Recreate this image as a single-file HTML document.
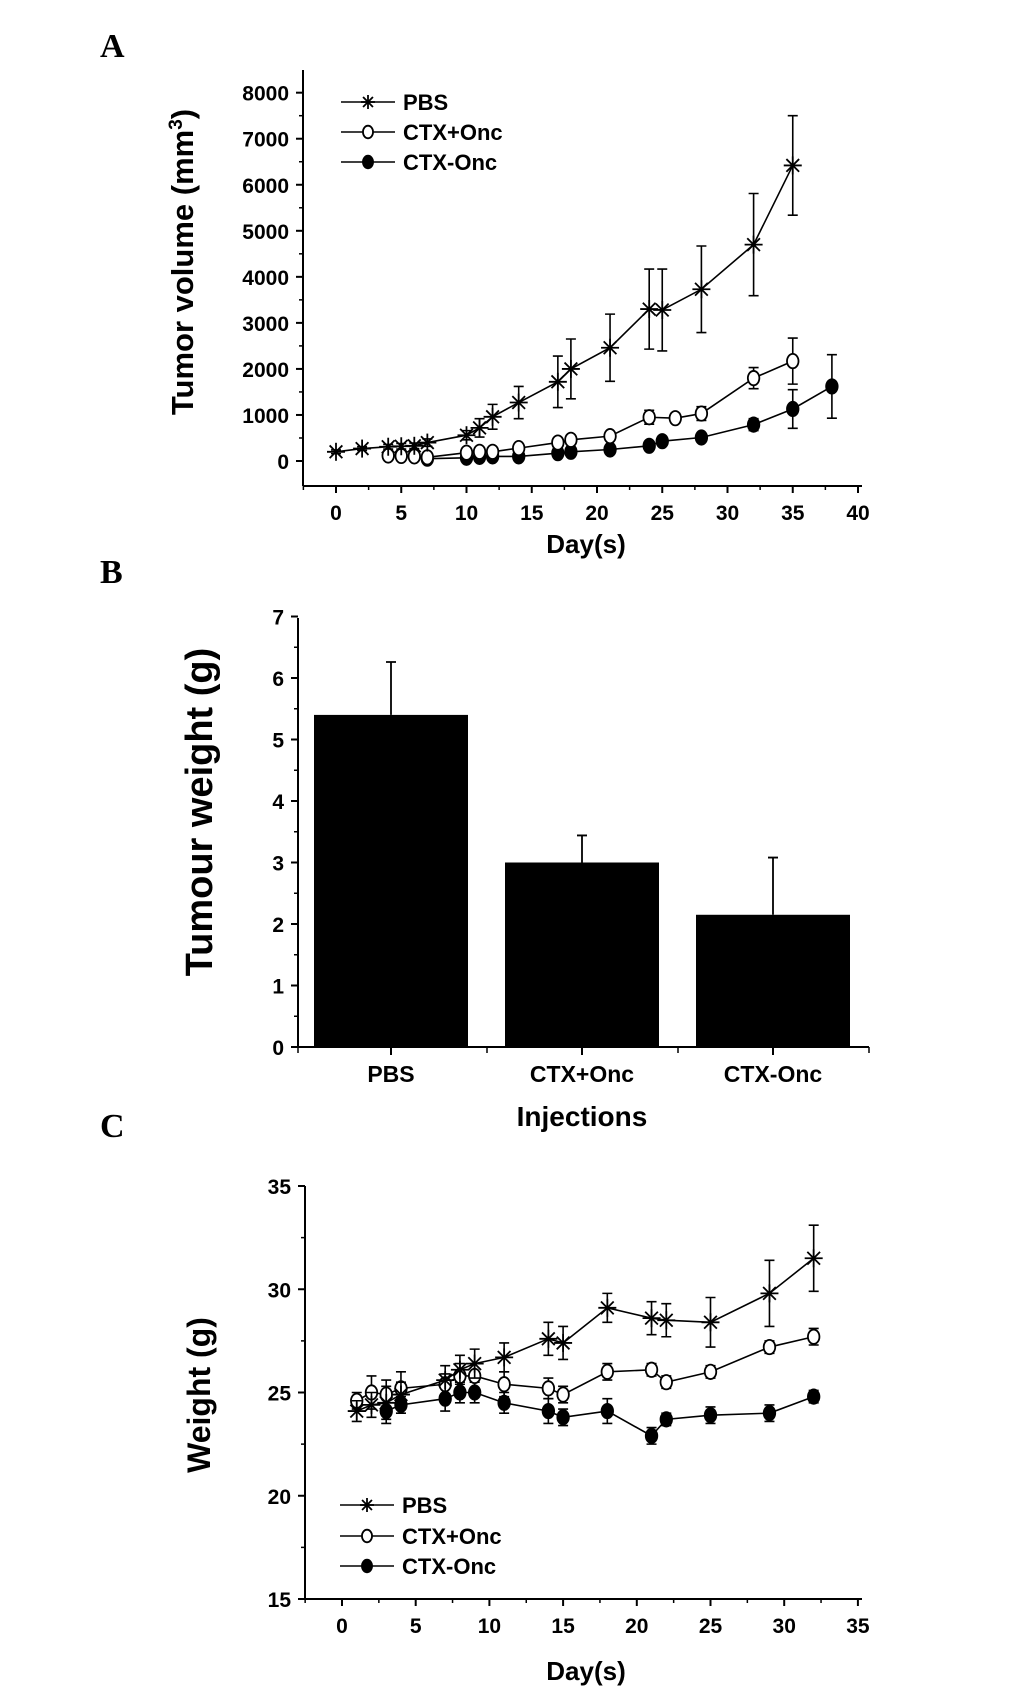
<!DOCTYPE html>
<html><head><meta charset="utf-8">
<style>
html,body{margin:0;padding:0;background:#fff;}
svg{display:block;font-family:"Liberation Sans",Arial,sans-serif;font-weight:bold;}
</style></head>
<body>
<svg id="fig" width="1033" height="1695" viewBox="0 0 1033 1695" xmlns="http://www.w3.org/2000/svg">
<text x="100" y="57" font-family="Liberation Serif,serif" font-size="34" font-weight="bold">A</text>
<text x="100" y="583" font-family="Liberation Serif,serif" font-size="34" font-weight="bold">B</text>
<text x="100" y="1137" font-family="Liberation Serif,serif" font-size="34" font-weight="bold">C</text>
<g id="gA"></g>
<g id="gB"></g>
<g id="gC"></g>
</svg>
<script>
// ---- Panel A data ----
const aPbsDays=[0,2,4,5,6,7,10,11,12,14,17,18,21,24,25,28,32,35];
const aPbsVals=[200,270,310,320,330,400,560,720,960,1270,1720,2000,2460,3300,3280,3730,4700,6420];
const aPbsErr=[40,40,50,60,60,80,100,200,270,350,560,650,730,870,890,940,1110,1080];
const aPlusDays=[4,5,6,7,10,11,12,14,17,18,21,24,26,28,32,35];
const aPlusVals=[120,110,100,80,180,200,200,280,400,460,540,950,930,1030,1800,2170];
const aPlusErr=[40,40,40,40,60,60,60,70,80,100,80,150,100,150,230,500];
const aMinusDays=[7,10,11,12,14,17,18,21,24,25,28,32,35,38];
const aMinusVals=[50,70,90,100,100,170,200,250,330,430,510,790,1130,1620];
const aMinusErr=[30,30,30,30,30,40,40,40,50,60,80,130,420,690];
const aXTicks=[0,5,10,15,20,25,30,35,40];
const aYTicks=[0,1000,2000,3000,4000,5000,6000,7000,8000];
// ---- Panel B data ----
const bCats=["PBS","CTX+Onc","CTX-Onc"];
const bVals=[5.4,3.0,2.15];
const bErr=[0.86,0.44,0.93];
const bYTicks=[0,1,2,3,4,5,6,7];
// ---- Panel C data ----
const cPbsDays=[1,2,3,4,7,8,9,11,14,15,18,21,22,25,29,32];
const cPbsVals=[24.1,24.4,24.5,24.9,25.6,26.1,26.4,26.7,27.6,27.4,29.1,28.6,28.5,28.4,29.8,31.5];
const cPbsErr=[0.5,0.6,0.8,0.6,0.7,0.7,0.7,0.7,0.8,0.8,0.7,0.8,0.8,1.2,1.6,1.6];
const cPlusDays=[1,2,3,4,7,8,9,11,14,15,18,21,22,25,29,32];
const cPlusVals=[24.6,25.0,24.9,25.2,25.4,25.8,25.8,25.4,25.2,24.9,26.0,26.1,25.5,26.0,27.2,27.7];
const cPlusErr=[0.4,0.8,0.7,0.8,0.5,0.6,0.6,0.6,0.5,0.4,0.4,0.3,0.3,0.3,0.3,0.4];
const cMinusDays=[3,4,7,8,9,11,14,15,18,21,22,25,29,32];
const cMinusVals=[24.1,24.4,24.7,25.0,25.0,24.5,24.1,23.8,24.1,22.9,23.7,23.9,24.0,24.8];
const cMinusErr=[0.6,0.4,0.6,0.5,0.5,0.5,0.6,0.4,0.6,0.4,0.3,0.4,0.4,0.3];
const cXTicks=[0,5,10,15,20,25,30,35];
const cYTicks=[15,20,25,30,35];

const NS="http://www.w3.org/2000/svg";
function mk(parent,tag,attrs,txt){const e=document.createElementNS(NS,tag);for(const k in attrs)e.setAttribute(k,attrs[k]);if(txt!==undefined)e.textContent=txt;parent.appendChild(e);return e;}

function marker(g,type,x,y,r){
  if(type==="star"){
    const m=mk(g,"g",{stroke:"#000","stroke-width":1.8});
    
    
    for(let i=0;i<4;i++){const a=i*Math.PI/4+Math.PI/2;mk(m,"line",{x1:x-r*Math.cos(a),y1:y-r*Math.sin(a),x2:x+r*Math.cos(a),y2:y+r*Math.sin(a)});}
  } else {
    const c=mk(g,"ellipse",{cx:x,cy:y,rx:r*0.72,ry:r*0.9,fill:type==="open"?"#fff":"#000",stroke:"#000","stroke-width":1.8});
    
    
  }
}

function series(g,days,vals,errs,sx,sy,type,name){
  const sg=mk(g,"g",{});
  
  
  const pts=days.map((d,i)=>sx(d)+","+sy(vals[i])).join(" ");
  mk(sg,"polyline",{points:pts,fill:"none",stroke:"#000","stroke-width":1.6});
  days.forEach((d,i)=>{
    const x=sx(d),y1=sy(vals[i]+errs[i]),y2=sy(vals[i]-errs[i]);
    const eb=mk(sg,"path",{d:`M${x},${y1}V${y2}M${x-5},${y1}H${x+5}M${x-5},${y2}H${x+5}`,stroke:"#000","stroke-width":1.6,fill:"none"});
    
    
  });
  days.forEach((d,i)=>marker(sg,type,sx(d),sy(vals[i]),type==="star"?9:8));
}

function axes(g,x0,x1,yTop,yBot,xAxisY,xt,sx,yt,sy,minorY,minorX,fs){
  mk(g,"line",{x1:x0,y1:yTop,x2:x0,y2:xAxisY,stroke:"#000","stroke-width":2});
  mk(g,"line",{x1:x0,y1:xAxisY,x2:x1,y2:xAxisY,stroke:"#000","stroke-width":2});
  yt.forEach((v,i)=>{
    const y=sy(v);
    mk(g,"line",{x1:x0-7,y1:y,x2:x0,y2:y,stroke:"#000","stroke-width":2});
    const t=mk(g,"text",{x:x0-14,y:y+8,"text-anchor":"end","font-size":fs},String(v));
    
    
    if(i<yt.length-1&&minorY){const ym=sy((v+yt[i+1])/2);mk(g,"line",{x1:x0-4,y1:ym,x2:x0,y2:ym,stroke:"#000","stroke-width":1.5});}
  });
  if(xt){xt.forEach((v,i)=>{
    const x=sx(v);
    mk(g,"line",{x1:x,y1:xAxisY,x2:x,y2:xAxisY+7,stroke:"#000","stroke-width":2});
    const t=mk(g,"text",{x:x,y:xAxisY+34,"text-anchor":"middle","font-size":fs},String(v));
    
    
    if(minorX){const xm=sx(v+2.5);if(xm<x1)mk(g,"line",{x1:xm,y1:xAxisY,x2:xm,y2:xAxisY+4,stroke:"#000","stroke-width":1.5});
      if(i===0){const xm2=sx(v-2.5);if(xm2>x0)mk(g,"line",{x1:xm2,y1:xAxisY,x2:xm2,y2:xAxisY+4,stroke:"#000","stroke-width":1.5});}}
  });}
}

function legend(g,x,ys){
  const items=[["star","PBS"],["open","CTX+Onc"],["filled","CTX-Onc"]];
  items.forEach((it,i)=>{
    const lg=mk(g,"g",{});
    
    
    mk(lg,"line",{x1:x,y1:ys[i],x2:x+54,y2:ys[i],stroke:"#000","stroke-width":1.6});
    marker(lg,it[0],x+27,ys[i],7);
    mk(lg,"text",{x:x+62,y:ys[i]+8,"font-size":22},it[1]);
  });
}

// Panel A
(function(){
  const g=document.getElementById("gA");
  const sx=d=>336+d*13.05, sy=v=>461-v*0.04604;
  axes(g,303,862,70,486,486,aXTicks,sx,aYTicks,sy,true,true,21);
  series(g,aMinusDays,aMinusVals,aMinusErr,sx,sy,"filled","ctx-onc-series");
  series(g,aPlusDays,aPlusVals,aPlusErr,sx,sy,"open","ctx-plus-onc-series");
  series(g,aPbsDays,aPbsVals,aPbsErr,sx,sy,"star","pbs-series");
  legend(g,341,[102,132,162]);
  const t=mk(g,"text",{x:0,y:0,"font-size":31,"text-anchor":"middle",transform:"translate(193,262) rotate(-90)"});
  
  
  t.innerHTML='Tumor volume (mm<tspan dy="-11" font-size="19">3</tspan><tspan dy="11">)</tspan>';
  const xt=mk(g,"text",{x:586,y:553,"font-size":26,"text-anchor":"middle"},"Day(s)");
  
  
})();

// Panel B
(function(){
  const g=document.getElementById("gB");
  const sy=v=>1047-v*61.5;
  const centers=[391,582,773];
  axes(g,298,869,618,1047,1047,null,null,bYTicks,sy,true,false,21);
  [298,487,678,869].forEach(x=>mk(g,"line",{x1:x,y1:1047,x2:x,y2:1053,stroke:"#000","stroke-width":1.5}));
  bCats.forEach((c,i)=>{
    const cx=centers[i];
    const b=mk(g,"rect",{x:cx-77,y:sy(bVals[i]),width:154,height:sy(0)-sy(bVals[i]),fill:"#000"});
    
    
    const e=mk(g,"path",{d:`M${cx},${sy(bVals[i])}V${sy(bVals[i]+bErr[i])}M${cx-5},${sy(bVals[i]+bErr[i])}H${cx+5}`,stroke:"#000","stroke-width":1.8});
    
    
    mk(g,"line",{x1:cx,y1:1047,x2:cx,y2:1055,stroke:"#000","stroke-width":2});
    const t=mk(g,"text",{x:cx,y:1082,"text-anchor":"middle","font-size":23},c);
    
    
  });
  const t=mk(g,"text",{x:0,y:0,"font-size":38,"text-anchor":"middle",transform:"translate(212,812) rotate(-90)"},"Tumour weight (g)");
  
  
  const xt=mk(g,"text",{x:582,y:1126,"font-size":28,"text-anchor":"middle"},"Injections");
  
  
})();

// Panel C
(function(){
  const g=document.getElementById("gC");
  const sx=d=>342+d*14.74, sy=v=>1599-(v-15)*20.65;
  axes(g,305,862,1186,1599,1599,cXTicks,sx,cYTicks,sy,true,true,21);
  series(g,cMinusDays,cMinusVals,cMinusErr,sx,sy,"filled","ctx-onc-series");
  series(g,cPlusDays,cPlusVals,cPlusErr,sx,sy,"open","ctx-plus-onc-series");
  series(g,cPbsDays,cPbsVals,cPbsErr,sx,sy,"star","pbs-series");
  legend(g,340,[1505,1536,1566]);
  const t=mk(g,"text",{x:0,y:0,"font-size":32,"text-anchor":"middle",transform:"translate(210,1395) rotate(-90)"},"Weight (g)");
  
  
  const xt=mk(g,"text",{x:586,y:1680,"font-size":26,"text-anchor":"middle"},"Day(s)");
  
  
})();
</script>
</body></html>
